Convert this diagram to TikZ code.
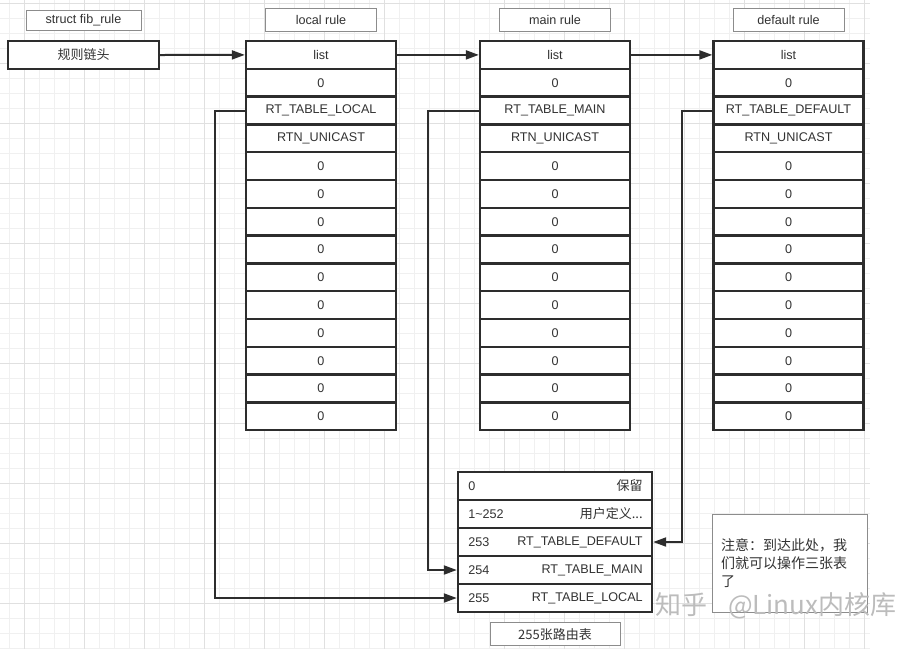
\documentclass[tikz,border=0pt]{standalone}
\usepackage{fontspec}
\setmainfont{Liberation Sans}
\newfontfamily\cjk{Noto Sans CJK SC}
\newcommand\zh{\cjk\fontsize{13}{17}\selectfont}
\usetikzlibrary{arrows.meta,positioning}
\begin{document}
\begin{tikzpicture}[x=1pt, y=-1pt, >={Triangle[length=13pt,width=9pt]}, font=\fontsize{12.6}{15}\selectfont]

	% ==========================================
	% 1. COLOURS
	% ==========================================
	\definecolor{gridmin}{RGB}{240, 240, 240}   % minor grid lines
	\definecolor{gridmaj}{RGB}{224, 224, 224}   % major grid lines
	\definecolor{inkcol}{RGB}{45, 45, 45}       % thick black borders
	\definecolor{tagcol}{RGB}{140, 140, 140}    % thin grey borders
	\definecolor{textcol}{RGB}{50, 50, 50}      % text
	\definecolor{markcol}{RGB}{188, 188, 188}   % watermark

	% ==========================================
	% 2. STYLES
	% ==========================================
	\tikzset{
		cell/.style={draw=inkcol, line width=2.4pt, fill=white, text=textcol,
			minimum width=150pt, minimum height=27.8pt, inner sep=0pt},
		tag/.style={draw=tagcol, line width=0.8pt, fill=white, text=textcol,
			minimum width=111pt, minimum height=23pt, inner sep=0pt},
		link/.style={draw=inkcol, line width=2pt, ->},
	}

	% ==========================================
	% 3. BACKGROUND GRID
	% ==========================================
	\fill[white] (0,0) rectangle (916,649);
	\useasboundingbox (0,0) rectangle (916,649);
	\foreach \x in {9,24,...,869} \draw[gridmin, line width=0.8pt] (\x,0) -- (\x,649);
	\foreach \y in {3,18,...,648} \draw[gridmin, line width=0.8pt] (0,\y) -- (870,\y);
	\foreach \x in {24,84,...,869} \draw[gridmaj, line width=0.9pt] (\x,0) -- (\x,649);
	\foreach \y in {3,63,...,648} \draw[gridmaj, line width=0.9pt] (0,\y) -- (870,\y);

	% ==========================================
	% 4. RULE HEAD
	% ==========================================
	\node[cell, minimum width=151pt] (head) at (83.5,55) {\zh 规则链头};
	\node[tag, minimum width=115pt, minimum height=20pt, above=9pt of head] (head-tag) {struct fib\_rule};

	% ==========================================
	% 5. THE THREE RULES
	% ==========================================
	\foreach \name/\cx/\third/\title in {loc/321/RT\_TABLE\_LOCAL/local rule,
		main/555/RT\_TABLE\_MAIN/main rule, def/788.5/RT\_TABLE\_DEFAULT/default rule} {
		\foreach \txt [count=\i] in {list,0,\third,RTN\_UNICAST,0,0,0,0,0,0,0,0,0,0}
			\node[cell] (\name-\i) at (\cx, {41+(\i-0.5)*27.8}) {\txt};
		\node[tag, above=8pt of \name-1] (\name-tag) {\title};
	}

	% ==========================================
	% 6. ROUTING TABLES
	% ==========================================
	\foreach \num/\desc [count=\i] in {0/{\zh 保留}, 1\textasciitilde252/{\zh 用户定义...},
		253/RT\_TABLE\_DEFAULT, 254/RT\_TABLE\_MAIN, 255/RT\_TABLE\_LOCAL} {
		\node[cell, minimum width=194pt, minimum height=28pt] (rt-\i) at (555, {472+(\i-0.5)*28}) {};
		\node[anchor=west, text=textcol] (rt-\i-l) at ([xshift=8pt]rt-\i.west) {\num};
		\node[anchor=east, text=textcol] (rt-\i-r) at ([xshift=-7pt]rt-\i.east) {\desc};
	}
	\node[tag, minimum width=130pt, below=9pt of rt-5] (rt-tag) {\zh 255张路由表};

	% ==========================================
	% 7. CONNECTORS
	% ==========================================
	\draw[link] (head.east) -- (loc-1.west);
	\draw[link] (loc-1.east) -- (main-1.west);
	\draw[link] (main-1.east) -- (def-1.west);
	\draw[link] (loc-3.west) -- ++(-30,0) |- (rt-5.west);
	\draw[link] (main-3.west) -- ++(-51,0) |- (rt-4.west);
	\draw[link] (def-3.west) -- ++(-30,0) |- (rt-3.east);

	% ==========================================
	% 8. NOTE AND WATERMARK
	% ==========================================
	\node[draw=tagcol, line width=0.8pt, fill=white, text=textcol, align=left,
		text width=137pt, inner xsep=9pt, minimum height=98pt,
		font=\cjk\fontsize{14}{18}\selectfont] (note) at (789.5,563)
		{注意：到达此处，我\\们就可以操作三张表\\了};
	\node[anchor=west, inner sep=0pt, text=markcol, font=\cjk\fontsize{26}{26}\selectfont]
		(mark) at (655,606) {知乎\hspace{0.8em}@Linux内核库};

\end{tikzpicture}
\end{document}
